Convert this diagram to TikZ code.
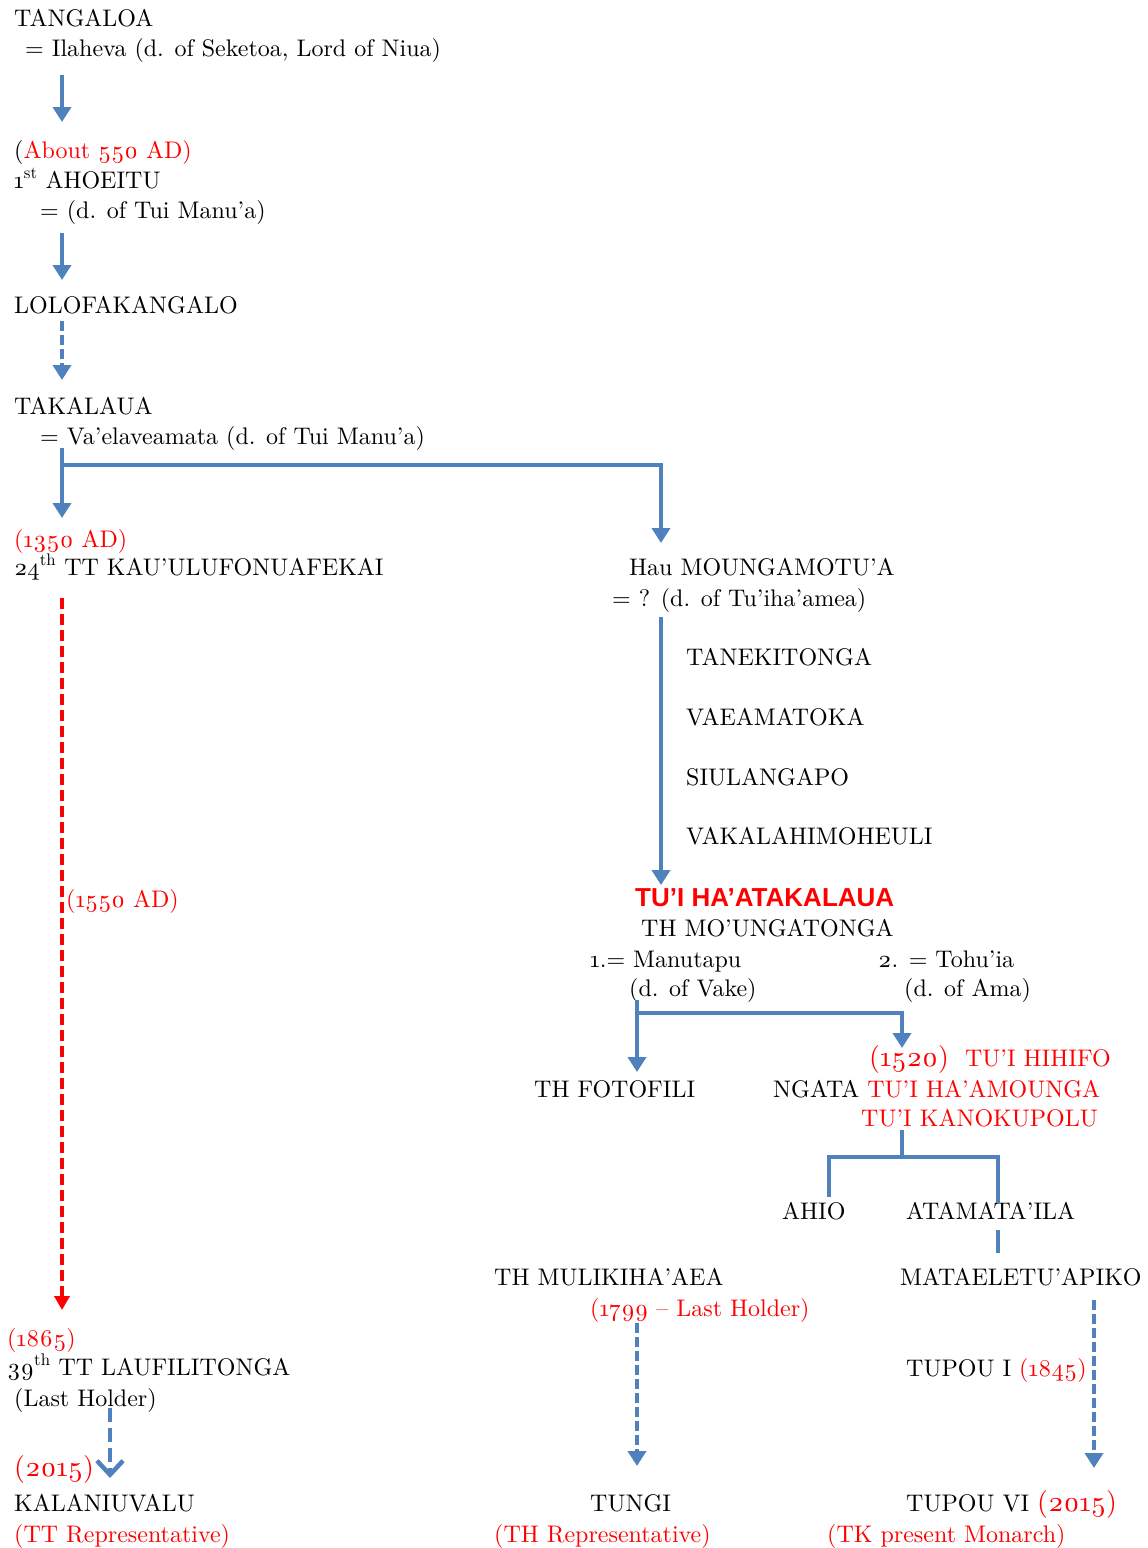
\documentclass[tikz,border=0pt]{standalone}
\usepackage{fontspec}
\setmainfont{lmroman10-regular.otf}[Numbers=OldStyle]
\newfontfamily\sansfam{Liberation Sans}[Numbers=Lining]
\usetikzlibrary{arrows.meta}
\definecolor{lblue}{HTML}{4F81BD}
\definecolor{tred}{HTML}{FF0000}
\tikzset{
  txt/.style={anchor=base west, inner sep=0pt, font=\fontsize{24}{28}\selectfont},
  rtxt/.style={txt, text=tred},
  big/.style={font=\fontsize{28}{32}\selectfont},
  ln/.style={draw=lblue, line width=4pt},
  arr/.style={ln, -{Triangle[width=18pt,length=15pt]}},
  darr/.style={arr, dash pattern=on 10pt off 4pt},
  redarr/.style={draw=tred, line width=3.5pt, dash pattern=on 11pt off 5pt, -{Triangle[width=15pt,length=14pt]}},
  barbarr/.style={draw=lblue, line width=4.5pt, dash pattern=on 14pt off 6pt, -{Straight Barb[width=26pt,length=14pt]}}
}
\newcommand{\rd}[1]{\textcolor{tred}{#1}}
\newcommand{\bignum}[1]{{\fontsize{28}{32}\selectfont #1}}
\begin{document}
\begin{tikzpicture}[x=1pt,y=-1pt]
\useasboundingbox (0,0) rectangle (1148,1548);
% left column
\node[txt] (tangaloa) at (14,26) {TANGALOA};
\node[txt] (ilaheva) at (25,56) {= Ilaheva (d. of Seketoa, Lord of Niua)};
\node[txt] (about) at (14,158) {(\rd{About 550 AD)}};
\node[txt] (ahoeitu) at (14,188) {1\textsuperscript{st} AHOEITU};
\node[txt] (ahwife) at (40,218) {= (d. of Tui Manu’a)};
\node[txt] (lolo) at (14,313) {LOLOFAKANGALO};
\node[txt] (takalaua) at (14,414) {TAKALAUA};
\node[txt] (vaela) at (40,444) {= Va’elaveamata (d. of Tui Manu’a)};
\node[rtxt] (d1350) at (14,547) {(1350 AD)};
\node[txt] (kau) at (14,575) {24\textsuperscript{th} TT KAU’ULUFONUAFEKAI};
\node[rtxt] (d1550) at (66,907) {(1550 AD)};
\node[rtxt] (d1865) at (7,1346) {(1865)};
\node[txt] (lauf) at (7,1375) {39\textsuperscript{th} TT LAUFILITONGA};
\node[txt] (lasth) at (14,1406) {(Last Holder)};
\node[rtxt, big] (d2015a) at (14,1476) {(2015)};
\node[txt] (kalan) at (14,1511) {KALANIUVALU};
\node[rtxt] (ttrep) at (14,1542) {(TT Representative)};
% middle / right
\node[txt] (hau) at (629,575) {Hau MOUNGAMOTU’A};
\node[txt] (hauwife) at (612,606) {= ? (d. of Tu’iha’amea)};
\node[txt] (tanek) at (686,665) {TANEKITONGA};
\node[txt] (vaeam) at (686,725) {VAEAMATOKA};
\node[txt] (siul) at (686,785) {SIULANGAPO};
\node[txt] (vakal) at (686,844) {VAKALAHIMOHEULI};
\node[txt, text=tred, font=\sansfam\bfseries\fontsize{26}{30}\selectfont] (tuiha) at (635,906) {TU’I HA’ATAKALAUA};
\node[txt] (thmo) at (641,936) {TH MO’UNGATONGA};
\node[txt] (manu) at (590,967) {1.= Manutapu};
\node[txt] (vake) at (629,996) {(d. of Vake)};
\node[txt] (tohu) at (878,967) {2. = Tohu’ia};
\node[txt] (ama) at (904,996) {(d. of Ama)};
\node[rtxt] (hihifo) at (869,1066) {\bignum{(1520)}\ \ TU’I HIHIFO};
\node[txt] (fotof) at (534,1097) {TH FOTOFILI};
\node[txt] (ngata) at (773,1097) {NGATA \rd{TU’I HA’AMOUNGA}};
\node[rtxt] (kanok) at (861,1126) {TU’I KANOKUPOLU};
\node[txt] (ahio) at (782,1219) {AHIO};
\node[txt] (atam) at (906,1219) {ATAMATA’ILA};
\node[txt] (mulik) at (494,1285) {TH MULIKIHA’AEA};
\node[txt] (matae) at (900,1285) {MATAELETU’APIKO};
\node[rtxt] (d1799) at (590,1316) {(1799 – Last Holder)};
\node[txt] (tupou1) at (906,1376) {TUPOU I \rd{(1845)}};
\node[txt] (tungi) at (590,1511) {TUNGI};
\node[rtxt] (threp) at (494,1542) {(TH Representative)};
\node[txt] (tupou6) at (906,1511) {TUPOU VI \rd{\bignum{(2015)}}};
\node[rtxt] (tkmon) at (827,1542) {(TK present Monarch)};
% coordinates for connectors
\coordinate (a1s) at (62,75);   \coordinate (a1e) at (62,122);
\coordinate (a2s) at (62,233);  \coordinate (a2e) at (62,280);
\coordinate (a3s) at (62,321);  \coordinate (a3e) at (62,380);
\coordinate (b1s) at (62,448);  \coordinate (b1j) at (62,465);
\coordinate (b1e) at (62,518);  \coordinate (b1c) at (661,465);
\coordinate (b1f) at (661,543);
\coordinate (h1s) at (661,617); \coordinate (h1e) at (661,885);
\coordinate (rs) at (62,598);   \coordinate (re) at (62,1310);
\coordinate (m1s) at (637,1000); \coordinate (m1j) at (637,1013);
\coordinate (m1e) at (637,1072); \coordinate (m1c) at (902,1013);
\coordinate (m1f) at (902,1048);
\coordinate (n1s) at (902,1130); \coordinate (n1j) at (902,1157);
\coordinate (n1l) at (829,1157); \coordinate (n1r) at (998,1157);
\coordinate (n1a) at (829,1197); \coordinate (n1b) at (998,1203);
\coordinate (p1s) at (998,1230); \coordinate (p1e) at (998,1253);
\coordinate (q1s) at (637,1323); \coordinate (q1e) at (637,1466);
\coordinate (q2s) at (1094,1300); \coordinate (q2e) at (1094,1468);
\coordinate (k1s) at (110,1408); \coordinate (k1e) at (110,1478);
% connectors
\draw[arr] (a1s) -- (a1e);
\draw[arr] (a2s) -- (a2e);
\draw[darr] (a3s) -- (a3e);
\draw[arr] (b1s) -- (b1e);
\draw[arr] (b1j) -- (b1c) -- (b1f);
\draw[arr] (h1s) -- (h1e);
\draw[redarr] (rs) -- (re);
\draw[arr] (m1s) -- (m1e);
\draw[arr] (m1j) -- (m1c) -- (m1f);
\draw[ln] (n1s) -- (n1j);
\draw[ln] (n1a) -- (n1l) -- (n1r) -- (n1b);
\draw[ln] (p1s) -- (p1e);
\draw[darr] (q1s) -- (q1e);
\draw[darr] (q2s) -- (q2e);
\draw[barbarr] (k1s) -- (k1e);
\end{tikzpicture}
\end{document}
